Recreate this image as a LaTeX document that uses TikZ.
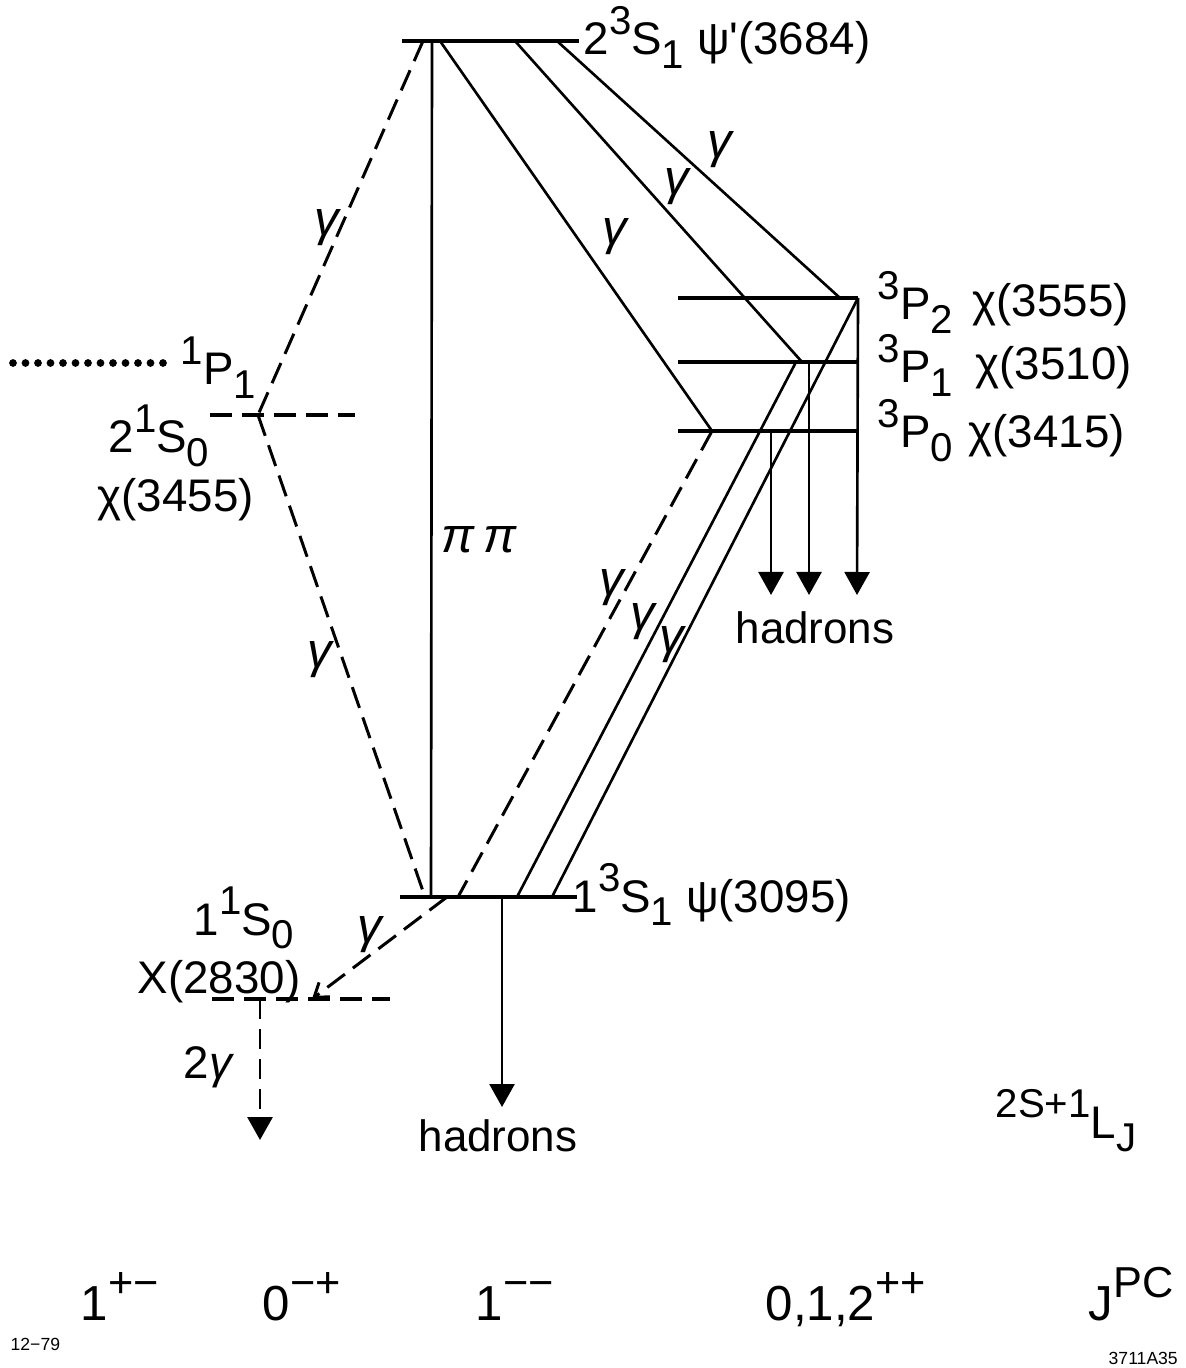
\documentclass[tikz,border=0pt]{standalone}
\usepackage{fontspec}
\setmainfont{Liberation Sans}
\usetikzlibrary{arrows.meta}
\newcommand{\up}[1]{\raisebox{0.45em}{\scalebox{0.88}{#1}}}
\newcommand{\dn}[1]{\raisebox{-0.3em}{\scalebox{0.88}{#1}}}

\begin{document}
\begin{tikzpicture}[x=0.1mm, y=-0.1mm,
    lvl/.style={line width=1.4pt},
    trans/.style={line width=0.75pt},
    dsh/.style={line width=0.85pt, dash pattern=on 2.2mm off 1mm},
    dots/.style={line width=2.2pt, line cap=round, dash pattern=on 0pt off 1.25mm},
    txt/.style={inner sep=0pt, font=\fontsize{13}{15}\selectfont},
    gam/.style={inner sep=0pt, font=\fontsize{14}{16}\selectfont\itshape},
    big/.style={inner sep=0pt, font=\fontsize{14}{17}\selectfont},
    stamp/.style={inner sep=0pt, font=\fontsize{5}{6}\selectfont},
    harr/.style={line width=0.75pt, -{Triangle[length=2.3mm,width=2.5mm]}}
]
\useasboundingbox (0,0) rectangle (1185,1368);

% level end points
\coordinate (psiPL) at (402,41);  \coordinate (psiPR) at (579,41);
\coordinate (chi2L) at (678,298); \coordinate (chi2R) at (858,298);
\coordinate (chi1L) at (678,362); \coordinate (chi1R) at (858,362);
\coordinate (chi0L) at (678,431); \coordinate (chi0R) at (858,431);
\coordinate (etaPL) at (210,415); \coordinate (etaPR) at (355,415);
\coordinate (psiL) at (400,897);  \coordinate (psiR) at (577,897);
\coordinate (etaL) at (212,999);  \coordinate (etaR) at (390,999);
\coordinate (dotL) at (13,363);   \coordinate (dotR) at (163,363);

% transition points
\coordinate (psiPa) at (423,41); \coordinate (psiPb) at (432,41);
\coordinate (psiPc) at (440,41); \coordinate (psiPd) at (515,41);
\coordinate (psiPe) at (557,41);
\coordinate (etaPv) at (258,415);
\coordinate (chi0v) at (712,431);
\coordinate (chi1a) at (802,362); \coordinate (chi1b) at (796,362);
\coordinate (chi2a) at (840,298); \coordinate (chi2b) at (858,298);
\coordinate (psia) at (425,897); \coordinate (psib) at (431,897);
\coordinate (psic) at (458,897); \coordinate (psid) at (517,897);
\coordinate (psie) at (552,897); \coordinate (psif) at (447,897);
\coordinate (psig) at (502,897);
\coordinate (etav) at (312,999); \coordinate (etag) at (260,999);
\coordinate (had0a) at (771,431); \coordinate (had0b) at (771,595);
\coordinate (had1a) at (809,362); \coordinate (had1b) at (809,595);
\coordinate (had2b) at (857,595);
\coordinate (hadpsi) at (502,1107);
\coordinate (twogam) at (260,1140);

% levels
\draw[lvl] (psiPL) -- (psiPR);
\draw[lvl] (chi2L) -- (chi2R);
\draw[lvl] (chi1L) -- (chi1R);
\draw[lvl] (chi0L) -- (chi0R);
\draw[lvl] (psiL) -- (psiR);
\draw[dsh, line width=1.2pt] (etaPL) -- (etaPR);
\draw[dsh, line width=1.2pt] (etaL) -- (etaR);
\draw[dots] (dotL) -- (dotR);

% transitions
\draw[dsh] (psiPa) -- (etaPv);
\draw[dsh] (etaPv) -- (psia);
\draw[trans] (psiPb) -- (psib);
\draw[trans] (psiPc) -- (chi0v);
\draw[trans] (psiPd) -- (chi1a);
\draw[trans] (psiPe) -- (chi2a);
\draw[dsh] (chi0v) -- (psic);
\draw[trans] (chi1b) -- (psid);
\draw[trans] (chi2b) -- (psie);
\draw[dsh, -{Straight Barb[length=1.3mm,width=1.8mm]}] (psif) -- (etav);
\draw[harr] (had0a) -- (had0b);
\draw[harr] (had1a) -- (had1b);
\draw[harr] (chi2b) -- (had2b);
\draw[harr] (psig) -- (hadpsi);
\draw[dsh, dash pattern=on 2mm off 1mm, -{Triangle[length=2.3mm,width=2.5mm]}] (etag) -- (twogam);

% state labels
\node[txt, anchor=base west] (psiPlab) at (583,55) {2\up{3}S\dn{1} ψ\textquotesingle(3684)};
\node[txt, anchor=base west] (chi2sp) at (877,320) {\up{3}P\dn{2}};
\node[txt, anchor=base west] (chi2lab) at (972,317) {χ(3555)};
\node[txt, anchor=base west] (chi1sp) at (877,383) {\up{3}P\dn{1}};
\node[txt, anchor=base west] (chi1lab) at (975,380) {χ(3510)};
\node[txt, anchor=base west] (chi0sp) at (877,448) {\up{3}P\dn{0}};
\node[txt, anchor=base west] (chi0lab) at (968,448) {χ(3415)};
\node[txt, anchor=base west] (p1lab) at (180,385) {\up{1}P\dn{1}};
\node[txt, anchor=base west] (etaPsp) at (108,453) {2\up{1}S\dn{0}};
\node[txt, anchor=base west] (etaPlab) at (97,512) {χ(3455)};
\node[txt, anchor=base west] (psilab) at (572,912) {1\up{3}S\dn{1} ψ(3095)};
\node[txt, anchor=base west] (etasp) at (193,935) {1\up{1}S\dn{0}};
\node[txt, anchor=base west] (etalab) at (137,993) {X(2830)};
\node[txt, anchor=base west] (twoglab) at (183,1078) {2\textit{γ}};
\node[txt, font=\fontsize{12.5}{14}\selectfont] (hadchi) at (815,628) {hadrons};
\node[txt, font=\fontsize{12.5}{14}\selectfont] (hadpsilab) at (498,1136) {hadrons};

% photon labels
\node[gam] (g1) at (327,228) {γ};
\node[gam] (g2) at (320,660) {γ};
\node[gam] (g3) at (615,237) {γ};
\node[gam] (g4) at (677,187) {γ};
\node[gam] (g5) at (720,150) {γ};
\node[gam] (g6) at (612,588) {γ};
\node[gam] (g7) at (643,622) {γ};
\node[gam] (g8) at (672,645) {γ};
\node[gam] (g9) at (370,935) {γ};
\node[gam] (pipi) at (479,540) {π\,π};

% quantum numbers
\node[txt, anchor=base west] (lsj) at (995,1138) {\up{2S+1}L\dn{J}};
\node[big, anchor=base west] (jpc1) at (80,1320) {1\up{+−}};
\node[big, anchor=base west] (jpc2) at (262,1320) {0\up{−+}};
\node[big, anchor=base west] (jpc3) at (475,1320) {1\up{−−}};
\node[big, anchor=base west] (jpc4) at (765,1320) {0,1,2\up{++}};
\node[big, anchor=base west] (jpc5) at (1088,1320) {J\up{PC}};
\node[stamp, anchor=base west] (date) at (10,1350) {12−79};
\node[stamp, anchor=base west] (ref) at (1108,1364) {3711A35};
\end{tikzpicture}
\end{document}
